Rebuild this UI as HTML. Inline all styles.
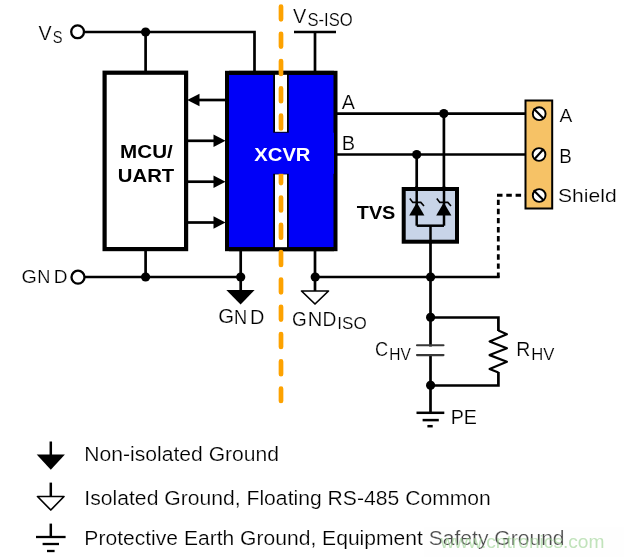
<!DOCTYPE html>
<html><head><meta charset="utf-8">
<style>
html,body{margin:0;padding:0;background:#fff;}
body{width:624px;height:557px;overflow:hidden;}
svg{display:block;}
#w{will-change:transform;width:624px;height:557px;}
text{font-family:"Liberation Sans",sans-serif;fill:#000;stroke:#fff;stroke-width:0.2px;}
.b{stroke:none;}
.b{font-weight:bold;}
</style></head><body><div id="w">
<svg width="624" height="557" viewBox="0 0 624 557">
<rect width="624" height="557" fill="#fff"/>
<g>
<g fill="none" stroke="#000" stroke-width="2.7">
  <!-- Vs line -->
  <polyline points="83.4,32 254.5,32 254.5,72"/>
  <line x1="145.6" y1="32" x2="145.6" y2="72"/>
  <!-- GND left line -->
  <line x1="83.4" y1="277" x2="241" y2="277"/>
  <line x1="145.6" y1="250" x2="145.6" y2="277"/>
  <line x1="240.7" y1="250" x2="240.7" y2="291"/>
  <line x1="315" y1="250" x2="315" y2="291"/>
  <!-- Vs-iso -->
  <line x1="294" y1="32" x2="336" y2="32"/>
  <line x1="315" y1="32" x2="315" y2="72"/>
  <!-- GND iso right line -->
  <line x1="315" y1="277" x2="499.6" y2="277"/>
  <!-- A and B lines -->
  <line x1="337" y1="113.6" x2="525" y2="113.6"/>
  <line x1="337" y1="154.5" x2="525" y2="154.5"/>
  <!-- arrows lines -->
  <line x1="195" y1="100" x2="226" y2="100"/>
  <line x1="188" y1="140.8" x2="216" y2="140.8"/>
  <line x1="188" y1="181.7" x2="216" y2="181.7"/>
  <line x1="188" y1="222.5" x2="216" y2="222.5"/>
  <!-- TVS wires -->
  <line x1="416.7" y1="154.5" x2="416.7" y2="225.7"/>
  <line x1="443.9" y1="113.6" x2="443.9" y2="225.7"/>
  <polyline points="416.7,225.7 444,225.7"/>
  <line x1="430.5" y1="225.7" x2="430.5" y2="412.8"/>
  <!-- CHV RHV loop -->
  <polyline points="430.5,317.5 498.4,317.5 498.4,331"/>
  <polyline points="498.4,372 498.4,385.5 430.5,385.5"/>
  <polyline points="498.4,330.6 506.9,334.3 489.6,341.4 506.9,348.3 489.6,355.1 506.9,361.8 489.6,369 498.4,372.6" stroke-width="2.2" stroke-linejoin="round"/>
</g>
<!-- MCU box -->
<rect x="104.6" y="72.7" width="81.5" height="176.4" fill="#fff" stroke="#000" stroke-width="4.2"/>
<!-- XCVR box -->
<rect x="227" y="72.8" width="108.5" height="176.4" fill="#0000f8" stroke="#000" stroke-width="4"/>
<rect x="274.1" y="72" width="13.8" height="60.7" fill="#fff" stroke="#000" stroke-width="1.8"/>
<rect x="274.1" y="173.5" width="13.8" height="76" fill="#fff" stroke="#000" stroke-width="1.8"/>
<rect x="229" y="70.8" width="105" height="4" fill="#000"/><rect x="229" y="247.2" width="105" height="4" fill="#000"/>
<!-- Capacitor gap -->
<rect x="418" y="346.5" width="24" height="7.5" fill="#fff"/>
<g stroke="#383838" stroke-width="2.1" stroke-linecap="round">
  <line x1="417" y1="345.2" x2="443.5" y2="345.2"/>
  <line x1="417" y1="355.1" x2="443.5" y2="355.1"/>
</g>
<!-- Arrowheads -->
<g fill="#000">
  <polygon points="187.2,100 199.5,93.7 199.5,106.3"/>
  <polygon points="225.5,140.8 213.5,134.5 213.5,147.1"/>
  <polygon points="225.5,181.7 213.5,175.4 213.5,188"/>
  <polygon points="225.5,222.5 213.5,216.2 213.5,228.8"/>
</g>
<!-- TVS box -->
<rect x="403.7" y="189" width="53.3" height="52.7" fill="#c8d4e8" stroke="#000" stroke-width="4"/>
<g stroke="#000" stroke-width="2.5" fill="none">
  <line x1="416.7" y1="186" x2="416.7" y2="225.7"/>
  <line x1="444" y1="186" x2="444" y2="225.7"/>
  <polyline points="416.7,225.7 444,225.7"/>
  <line x1="430.5" y1="225.7" x2="430.5" y2="244"/>
</g>
<g fill="#000">
  <polygon points="409.2,215.6 424.4,215.6 416.8,202.6"/>
  <polygon points="436.2,215.6 451.4,215.6 443.8,202.6"/>
</g>
<g stroke="#000" stroke-width="1.6" fill="none">
  <path d="M409.8,198.6 L412.8,202.4 L420.8,202.4 L424,206"/>
  <path d="M436.8,198.6 L439.8,202.4 L447.8,202.4 L451,206"/>
</g>
<!-- junction dots -->
<g fill="#000">
  <circle cx="145.6" cy="32" r="4.6"/>
  <circle cx="145.6" cy="277" r="4.6"/>
  <circle cx="240.7" cy="277" r="4.6"/>
  <circle cx="315.2" cy="277" r="4.6"/>
  <circle cx="430.6" cy="277" r="4.6"/>
  <circle cx="443.8" cy="113.6" r="4.6"/>
  <circle cx="416.7" cy="154.5" r="4.6"/>
  <circle cx="430.6" cy="317.3" r="4.6"/>
  <circle cx="430.6" cy="385.3" r="4.6"/>
</g>
<!-- terminals -->
<circle cx="77.6" cy="31.8" r="6.4" fill="#fff" stroke="#000" stroke-width="2.3"/>
<circle cx="78" cy="277.2" r="6.5" fill="#fff" stroke="#000" stroke-width="2.3"/>
<!-- grounds -->
<polygon points="226.3,290 254.6,290 240.6,304.6" fill="#000"/>
<polygon points="301.5,291 328.5,291 315,304" fill="#fff" stroke="#000" stroke-width="1.7" stroke-linejoin="round"/>
<g stroke="#000" stroke-width="2.5">
  <line x1="416.5" y1="412.8" x2="444.3" y2="412.8"/>
  <line x1="422.6" y1="420.1" x2="438.8" y2="420.1"/>
  <line x1="427.4" y1="426.2" x2="432.7" y2="426.2"/>
</g>
<!-- shield dashed -->
<line x1="497" y1="195.3" x2="533" y2="195.3" stroke="#000" stroke-width="2.9" stroke-dasharray="5.5,3.8"/>
<line x1="498.3" y1="199.7" x2="498.3" y2="277.5" stroke="#000" stroke-width="2.8" stroke-dasharray="5.4,3.7"/>
<!-- terminal block -->
<rect x="525.5" y="100.5" width="26.7" height="108" fill="#f6c266" stroke="#000" stroke-width="2"/>
<g fill="#fff" stroke="#000" stroke-width="1.9">
  <circle cx="539.2" cy="113.7" r="6.4"/>
  <circle cx="539" cy="154.5" r="6.4"/>
  <circle cx="539.2" cy="195.5" r="6.4"/>
</g>
<g stroke="#000" stroke-width="2.1">
  <line x1="533.6" y1="108.5" x2="543.8" y2="118.7"/>
  <line x1="534.6" y1="159" x2="543.6" y2="149"/>
  <line x1="533.6" y1="190.3" x2="543.8" y2="200.5"/>
</g>
<!-- orange dashed isolation line -->
<line x1="281" y1="6.5" x2="281" y2="401" stroke="#fda200" stroke-width="4.7" stroke-linecap="round" stroke-dasharray="12.8,14.5"/>
<rect x="229" y="132.7" width="105" height="41.1" fill="#0000f8"/>
<!-- legend symbols -->
<g stroke="#000" stroke-width="2.5">
  <line x1="50.8" y1="441.5" x2="50.8" y2="455"/>
  <line x1="50.8" y1="482.6" x2="50.8" y2="496"/>
  <line x1="50.8" y1="523.6" x2="50.8" y2="537"/>
  <line x1="36" y1="537" x2="65.6" y2="537" stroke-width="2.3"/>
  <line x1="42.6" y1="544" x2="59" y2="544" stroke-width="2.3"/>
  <line x1="47" y1="551" x2="54.6" y2="551" stroke-width="2.3"/>
</g>
<polygon points="36.7,454.4 64.9,454.4 50.8,469.7" fill="#000"/>
<polygon points="37.5,496.5 64,496.5 50.8,510" fill="#fff" stroke="#000" stroke-width="1.7" stroke-linejoin="round"/>

<!-- texts -->
<text font-size="20" transform="matrix(0.9846,0,0,0.9745,38.55,40.40)">V</text>
<text font-size="20" transform="matrix(0.7304,0,0,0.8632,52.77,43.48)">S</text>
<text class="b" font-size="20" transform="matrix(1.0312,0,0,0.9263,120.11,157.57)">MCU/</text>
<text class="b" font-size="20" transform="matrix(1.0148,0,0,0.9429,117.83,181.66)">UART</text>
<text class="b" font-size="20" transform="matrix(1.0100,0,0,0.9263,254.35,161.27)" style="fill:#fff">XCVR</text>
<text font-size="20" transform="matrix(0.9923,0,0,0.9891,293.05,23.00)">V</text>
<text font-size="20" transform="matrix(0.8305,0,0,0.9053,307.47,26.47)">S-ISO</text>
<text font-size="20" transform="matrix(0.9887,0,0,0.9818,341.70,108.60)">A</text>
<text font-size="20" transform="matrix(1.0000,0,0,1.0182,341.75,150.10)">B</text>
<text class="b" font-size="20" transform="matrix(0.9934,0,0,0.9544,356.75,219.26)">TVS</text>
<text font-size="20" transform="matrix(0.9846,0,0,0.8982,21.42,283.18)">G</text>
<text font-size="20" transform="matrix(0.9091,0,0,0.9309,37.31,283.40)">N</text>
<text font-size="20" transform="matrix(0.9532,0,0,0.9309,53.63,283.40)">D</text>
<text font-size="20" transform="matrix(1.0154,0,0,0.9895,218.28,323.25)">G</text>
<text font-size="20" transform="matrix(0.9091,0,0,1.0255,233.91,323.50)">N</text>
<text font-size="20" transform="matrix(0.9957,0,0,1.0255,249.96,323.50)">D</text>
<text font-size="20" transform="matrix(0.9462,0,0,0.9684,292.05,325.96)">G</text>
<text font-size="20" transform="matrix(1.0091,0,0,1.0036,307.63,326.20)">N</text>
<text font-size="20" transform="matrix(0.9617,0,0,1.0036,322.52,326.20)">D</text>
<text font-size="20" transform="matrix(0.8535,0,0,0.8491,337.31,328.69)">ISO</text>
<text font-size="20" transform="matrix(0.9585,0,0,0.9600,559.60,122.30)">A</text>
<text font-size="20" transform="matrix(0.9429,0,0,1.0327,559.25,162.50)">B</text>
<text font-size="20" transform="matrix(1.0554,0,0,0.9017,558.04,202.47)">Shield</text>
<text font-size="20" transform="matrix(0.9120,0,0,0.9754,374.99,355.96)">C</text>
<text font-size="20" transform="matrix(0.7769,0,0,0.8509,389.34,359.90)">HV</text>
<text font-size="20" transform="matrix(0.9702,0,0,0.9891,516.20,355.90)">R</text>
<text font-size="20" transform="matrix(0.8346,0,0,0.8509,531.24,359.90)">HV</text>
<text font-size="20" transform="matrix(0.9833,0,0,1.0109,450.68,424.00)">PE</text>
<text font-size="20" transform="matrix(1.0556,0,0,1.0400,84.35,461.40)">Non-isolated Ground</text>
<text font-size="20" transform="matrix(1.0574,0,0,1.0182,84.35,505.40)">Isolated Ground, Floating RS-485 Common</text>
<text font-size="20" transform="matrix(1.0538,0,0,1.0182,84.36,545.40)">Protective Earth Ground, Equipment Safety Ground</text>
<rect x="424" y="527" width="200" height="30" fill="#fbfbfb" fill-opacity="0.3"/>
<text font-size="19" x="440.5" y="547.5" textLength="164" lengthAdjust="spacingAndGlyphs" style="fill:#9fd496;fill-opacity:0.65;stroke:none">www.cntronics.com</text>
</g>
</svg></div>
</body></html>
